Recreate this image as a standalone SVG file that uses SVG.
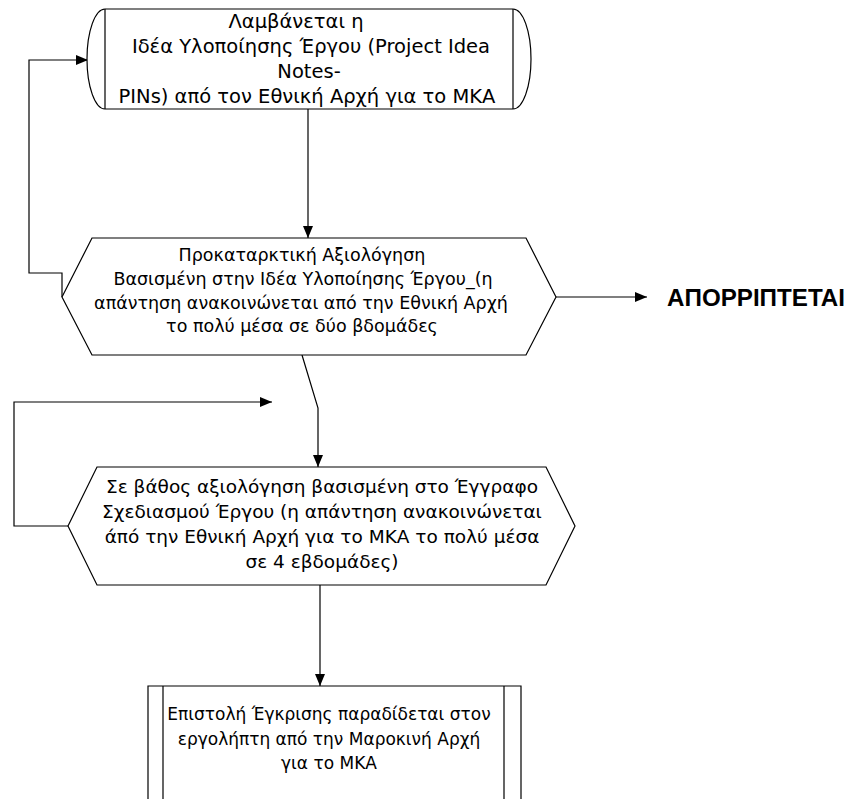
<svg xmlns="http://www.w3.org/2000/svg" width="847" height="799" viewBox="0 0 847 799">
  <style>
    .shape { fill: #ffffff; stroke: #000000; stroke-width: 1.2; }
    .line { fill: none; stroke: #000000; stroke-width: 1.2; }
    .arrow { marker-end: url(#head); }
    text { font-family: "DejaVu Sans", Verdana, sans-serif; font-size: 17.5px; fill: #000000; text-anchor: middle; }
    #node-receive text { font-size: 19.5px; }
    #node-indepth text { font-size: 18.5px; }
    #node-approval text { font-size: 17px; }
    .reject { font-family: "Liberation Sans", Arial, sans-serif; font-weight: bold; font-size: 23.5px; text-anchor: start; }
  </style>
  <defs>
    <marker id="head" viewBox="0 0 12 10" refX="12" refY="5" markerWidth="12" markerHeight="10" markerUnits="userSpaceOnUse" orient="auto">
      <path d="M0,0 L12,5 L0,10 Z" fill="#000000"/>
    </marker>
  </defs>
  <rect width="847" height="799" fill="#ffffff"/>

  <!-- connectors -->
  <g id="connectors">
    <path class="line arrow" d="M308,109 V238"/>
    <path class="line arrow" d="M62,297 V273 H29 V60 H88"/>
    <path class="line arrow" d="M556,297 H647"/>
    <path class="line arrow" d="M302,355 L318,408 V467"/>
    <path class="line arrow" d="M68,526 H14 V402 H272"/>
    <path class="line arrow" d="M320,585 V686"/>
  </g>

  <!-- receipt of the project idea note -->
  <g id="node-receive">
    <path class="shape" d="M105,9 H513 A18,50 0 0 1 513,109 H105 A18,50 0 0 1 105,9 Z"/>
    <path class="line" d="M105,9 V109 M513,9 V109"/>
    <text x="296" y="28">Λαμβάνεται η</text>
    <text x="311" y="53">Ιδέα Υλοποίησης Έργου (Project Idea</text>
    <text x="309" y="78">Notes-</text>
    <text x="307" y="103">PINs) από τον Εθνική Αρχή για το ΜΚΑ</text>
  </g>

  <!-- preliminary evaluation -->
  <g id="node-preliminary">
    <path class="shape" d="M62,297 L92,238 H526 L556,297 L526,355 H92 Z"/>
    <text x="302" y="261">Προκαταρκτική Αξιολόγηση</text>
    <text x="303" y="285">Βασισμένη στην Ιδέα Υλοποίησης Έργου_(η</text>
    <text x="301" y="309">απάντηση ανακοινώνεται από την Εθνική Αρχή</text>
    <text x="302" y="332">το πολύ μέσα σε δύο βδομάδες</text>
  </g>

  <!-- rejection outcome -->
  <g id="node-reject">
    <text class="reject" x="667" y="306" textLength="178" lengthAdjust="spacingAndGlyphs">ΑΠΟΡΡΙΠΤΕΤΑΙ</text>
  </g>

  <!-- in-depth evaluation -->
  <g id="node-indepth">
    <path class="shape" d="M68,526 L97,467 H546 L575,526 L546,585 H97 Z"/>
    <text x="322" y="493">Σε βάθος αξιολόγηση βασισμένη στο Έγγραφο</text>
    <text x="322" y="518">Σχεδιασμού Έργου (η απάντηση ανακοινώνεται</text>
    <text x="322" y="543">άπό την Εθνική Αρχή για το ΜΚΑ το πολύ μέσα</text>
    <text x="322" y="568">σε 4 εβδομάδες)</text>
  </g>

  <!-- approval letter -->
  <g id="node-approval">
    <path class="shape" d="M148,800 V686 H521 V800"/>
    <path class="line" d="M163,686 V800 M504,686 V800"/>
    <text x="329" y="720">Επιστολή Έγκρισης παραδίδεται στον</text>
    <text x="329" y="745">εργολήπτη από την Μαροκινή Αρχή</text>
    <text x="329" y="769">για το ΜΚΑ</text>
  </g>
</svg>
